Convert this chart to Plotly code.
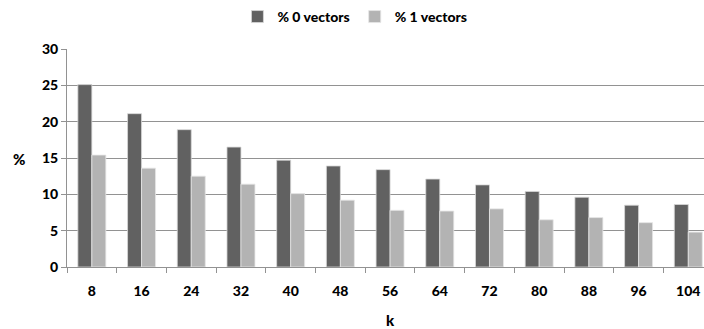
import plotly.graph_objects as go

# k values on the category axis
k_labels = ["8", "16", "24", "32", "40", "48", "56", "64", "72", "80", "88", "96", "104"]

# share of 0 vectors and 1 vectors, in percent
pct_0_vectors = [25.1, 21.1, 18.9, 16.5, 14.7, 13.9, 13.4, 12.1, 11.3, 10.4, 9.6, 8.5, 8.6]
pct_1_vectors = [15.4, 13.6, 12.5, 11.4, 10.1, 9.2, 7.8, 7.7, 8.0, 6.5, 6.8, 6.1, 4.8]

FONT = "Lato"
GRID = "#929292"
TICK_FONT = dict(family=FONT, size=14, weight=900)

fig = go.Figure()
fig.add_trace(go.Bar(
    x=k_labels, y=pct_0_vectors, name="% 0 vectors",
    marker=dict(color="#616161", line=dict(color="#d8d8d8", width=0.8)),
))
fig.add_trace(go.Bar(
    x=k_labels, y=pct_1_vectors, name="% 1 vectors",
    marker=dict(color="#b3b3b3", line=dict(color="#e6e6e6", width=0.8)),
))

fig.update_layout(
    width=704, height=329,
    margin=dict(l=67, r=0, t=49, b=62),
    paper_bgcolor="white", plot_bgcolor="white",
    barmode="group", bargap=0.437, bargroupgap=0,
    font=dict(family=FONT, size=14, color="#000000", weight=900),
    showlegend=True,
    legend=dict(
        orientation="h", x=0.452, xanchor="center", y=1.147, yanchor="middle",
        font=dict(family=FONT, size=14, weight=900),
        itemwidth=30, tracegroupgap=0, bgcolor="rgba(0,0,0,0)",
    ),
    xaxis=dict(
        type="category", range=[-0.5, 12.316],
        showline=True, linecolor=GRID, linewidth=1,
        ticks="outside", tickson="boundaries", ticklen=5, tickcolor=GRID,
        ticklabelstandoff=11,
        showgrid=False, tickfont=TICK_FONT,
        automargin=False,
    ),
    yaxis=dict(
        range=[0, 30], dtick=5, tick0=0,
        showline=True, linecolor=GRID, linewidth=1,
        ticks="outside", ticklen=5, tickcolor=GRID,
        showgrid=True, gridcolor=GRID, gridwidth=1, zeroline=False,
        tickfont=TICK_FONT,
        automargin=False,
    ),
    annotations=[
        dict(text="k", xref="paper", yref="paper", x=(390 - 67) / 637, y=0,
             yshift=-53, xanchor="center", yanchor="middle", showarrow=False,
             font=dict(family=FONT, size=15, weight=900)),
        dict(text="%", xref="paper", yref="paper", x=0, xshift=-48, y=(266.7 - 158.3) / 218,
             xanchor="center", yanchor="middle", showarrow=False,
             font=dict(family=FONT, size=15, weight=900)),
    ],
)

fig.write_html("out.html")
